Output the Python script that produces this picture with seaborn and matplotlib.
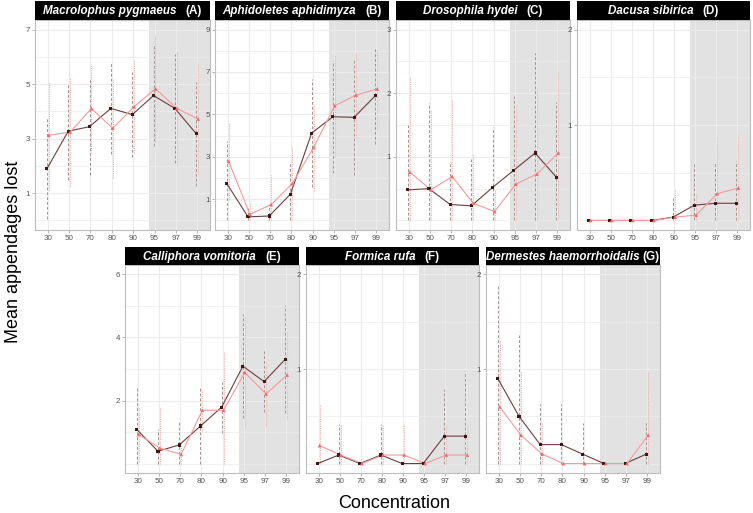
import numpy as np
import pandas as pd
import matplotlib
matplotlib.use("Agg")
import matplotlib.pyplot as plt
import seaborn as sns

sns.set_theme(style="white")
plt.rcParams['font.family'] = ['Liberation Sans', 'DejaVu Sans']

# ---------------- data ----------------
concentrations = ["30", "50", "70", "80", "90", "95", "97", "99"]
species = ["Macrolophus pygmaeus", "Aphidoletes aphidimyza", "Drosophila hydei",
           "Dacusa sibirica", "Calliphora vomitoria", "Formica rufa",
           "Dermestes haemorrhoidalis"]
letters = ["(A)", "(B)", "(C)", "(D)", "(E)", "(F)", "(G)"]

A_dark_mean = [1.89, 3.27, 3.44, 4.11, 3.88, 4.58, 4.11, 3.18]
A_dark_sd = [1.85, 1.77, 1.78, 1.68, 1.55, 1.86, 2.00, 1.90]
A_pink_mean = [3.12, 3.24, 4.10, 3.38, 4.17, 4.83, 4.11, 3.72]
A_pink_sd = [2.00, 1.98, 1.64, 1.82, 1.70, 1.96, 2.10, 2.00]

B_dark_mean = [1.74, 0.17, 0.21, 1.24, 4.12, 4.89, 4.86, 5.88]
B_dark_sd = [2.00, 0.40, 0.45, 1.50, 2.56, 2.64, 2.74, 2.27]
B_pink_mean = [2.78, 0.29, 0.75, 1.74, 3.44, 5.41, 5.91, 6.20]
B_pink_sd = [1.82, 0.52, 1.40, 1.75, 2.07, 2.40, 2.00, 1.90]

C_dark_mean = [0.48, 0.50, 0.25, 0.23, 0.52, 0.79, 1.06, 0.68]
C_dark_sd = [1.02, 1.34, 0.63, 0.73, 0.95, 1.16, 1.57, 1.18]
C_pink_mean = [0.76, 0.48, 0.69, 0.27, 0.14, 0.57, 0.73, 1.06]
C_pink_sd = [1.49, 1.27, 1.22, 0.78, 0.35, 1.23, 1.35, 1.27]

D_dark_mean = [0.0, 0.0, 0.0, 0.0, 0.035, 0.16, 0.18, 0.18]
D_dark_sd = [0.0, 0.0, 0.0, 0.0, 0.20, 0.43, 0.43, 0.44]
D_pink_mean = [0.0, 0.0, 0.0, 0.0, 0.035, 0.056, 0.28, 0.34]
D_pink_sd = [0.0, 0.0, 0.0, 0.0, 0.28, 0.23, 0.60, 0.55]

E_dark_mean = [1.08, 0.39, 0.59, 1.19, 1.79, 3.09, 2.60, 3.31]
E_dark_sd = [1.32, 0.71, 0.73, 1.20, 0.81, 1.65, 0.98, 1.71]
E_pink_mean = [0.92, 0.49, 0.29, 1.69, 1.69, 2.89, 2.21, 2.81]
E_pink_sd = [0.87, 1.30, 0.30, 0.68, 1.86, 1.79, 1.00, 1.40]

F_dark_mean = [0.0, 0.09, 0.0, 0.09, 0.0, 0.0, 0.29, 0.29]
F_dark_sd = [0.0, 0.33, 0.0, 0.33, 0.0, 0.0, 0.50, 0.69]
F_pink_mean = [0.19, 0.09, 0.0, 0.09, 0.09, 0.0, 0.09, 0.09]
F_pink_sd = [0.43, 0.33, 0.0, 0.33, 0.33, 0.0, 0.33, 0.33]

G_dark_mean = [0.90, 0.50, 0.20, 0.20, 0.10, 0.0, 0.0, 0.10]
G_dark_sd = [1.00, 0.86, 0.43, 0.43, 0.33, 0.0, 0.0, 0.33]
G_pink_mean = [0.60, 0.30, 0.10, 0.0, 0.0, 0.0, 0.0, 0.30]
G_pink_sd = [0.71, 0.68, 0.33, 0.0, 0.0, 0.0, 0.0, 0.68]

y_max = [7, 9, 3, 2, 6, 2, 2]
y_ticks = [[1, 3, 5, 7], [1, 3, 5, 7, 9], [1, 2, 3], [1, 2], [2, 4, 6], [1, 2], [1, 2]]

panel_data = [
    (A_dark_mean, A_dark_sd, A_pink_mean, A_pink_sd),
    (B_dark_mean, B_dark_sd, B_pink_mean, B_pink_sd),
    (C_dark_mean, C_dark_sd, C_pink_mean, C_pink_sd),
    (D_dark_mean, D_dark_sd, D_pink_mean, D_pink_sd),
    (E_dark_mean, E_dark_sd, E_pink_mean, E_pink_sd),
    (F_dark_mean, F_dark_sd, F_pink_mean, F_pink_sd),
    (G_dark_mean, G_dark_sd, G_pink_mean, G_pink_sd),
]

# ---------------- layout ----------------
W, H = 753, 513
fig = plt.figure(figsize=(W / 100, H / 100), dpi=100)

def rect(x0, x1, y0, y1):
    return [x0 / W, 1 - y1 / H, (x1 - x0) / W, (y1 - y0) / H]

panel_x = [(35, 210), (215, 389), (396, 570), (577, 750),
           (125, 299), (306, 479), (486, 660)]
top_row = (20, 230, 1)      # plot top, plot bottom, strip top
bot_row = (265, 473, 247)

DARK_LINE = "#6e3d3d"
DARK_PT = "#3e1616"
PINK_LINE = "#f59a9a"
PINK_PT = "#f26868"
DARK_ERR = "#a39494"
PINK_ERR = "#f6b0b0"
GRID = "#ececec"
SHADE = "#e2e2e2"

renderer = fig.canvas.get_renderer()
dodge = 0.045

for i in range(7):
    x0, x1 = panel_x[i]
    py0, py1, sy0 = top_row if i < 4 else bot_row
    ax = fig.add_axes(rect(x0, x1, py0, py1))
    dm, ds, pm, psd = panel_data[i]
    n = len(concentrations)
    pos = np.arange(1, n + 1)

    ymax = y_max[i]
    lo_lim, hi_lim = -0.05 * ymax, ymax * 1.05
    ax.set_xlim(0.4, n + 0.6)
    ax.set_ylim(lo_lim, hi_lim)
    ax.set_facecolor("white")

    # shaded region (95-99)
    ax.axvspan(5.75, n + 0.6, color=SHADE, zorder=0, lw=0)

    # grid
    ticks = y_ticks[i]
    step = ticks[1] - ticks[0]
    minors = np.arange(ticks[0] - step, hi_lim, step / 2)
    for m in minors:
        if lo_lim <= m <= hi_lim and m not in ticks:
            ax.axhline(m, color=GRID, lw=0.5, zorder=0.5)
    for t in ticks:
        ax.axhline(t, color=GRID, lw=0.8, zorder=0.5)
    for p in pos:
        ax.axvline(p, color=GRID, lw=0.8, zorder=0.5)

    df = pd.DataFrame({
        "pos": np.concatenate([pos - dodge, pos + dodge]),
        "mean": np.array(list(dm) + list(pm)),
        "sd": np.array(list(ds) + list(psd)),
        "group": ["dark"] * n + ["pink"] * n,
    })
    lo = np.clip(df["mean"] - df["sd"], 0, None)
    hi = df["mean"] + df["sd"]
    dmask = df["group"] == "dark"
    ax.vlines(df["pos"][dmask], lo[dmask], hi[dmask], colors=DARK_ERR,
              linestyles=(0, (3, 2)), lw=0.7, zorder=2)
    ax.vlines(df["pos"][~dmask], lo[~dmask], hi[~dmask], colors=PINK_ERR,
              linestyles=(0, (1, 1)), lw=0.8, zorder=2)

    sns.lineplot(data=df, x="pos", y="mean", hue="group",
                 palette={"dark": DARK_LINE, "pink": PINK_LINE},
                 lw=0.8, legend=False, ax=ax, sort=False, zorder=3,
                 estimator=None)
    sns.scatterplot(data=df, x="pos", y="mean", hue="group", style="group",
                    markers={"dark": "s", "pink": "^"},
                    palette={"dark": DARK_PT, "pink": PINK_PT},
                    size="group", sizes={"dark": 5, "pink": 7},
                    linewidth=0, legend=False, ax=ax, zorder=4)

    ax.set_xticks(pos)
    ax.set_xticklabels(concentrations)
    ax.set_yticks(ticks)
    ax.set_yticklabels([str(t) for t in ticks])
    ax.tick_params(axis="both", labelsize=5.8, labelcolor="#555555",
                   length=2, width=0.5, color="#999999", pad=1.5)
    ax.tick_params(axis="x", bottom=True)
    ax.tick_params(axis="y", left=True)
    ax.set_xlabel("")
    ax.set_ylabel("")
    for s in ax.spines.values():
        s.set_color("#bdbdbd")
        s.set_linewidth(0.8)

    # strip
    sax = fig.add_axes(rect(x0, x1, sy0, py0))
    sax.set_facecolor("black")
    sax.set_xticks([])
    sax.set_yticks([])
    for s in sax.spines.values():
        s.set_visible(False)
    t1 = sax.text(0, 0.45, species[i], color="white", fontsize=8.4,
                  fontweight="bold", fontstyle="italic",
                  ha="left", va="center", transform=sax.transAxes)
    t2 = sax.text(0, 0.45, letters[i], color="white", fontsize=8.4,
                  fontweight="bold", ha="left", va="center",
                  transform=sax.transAxes)
    w1 = t1.get_window_extent(renderer).width
    w2 = t2.get_window_extent(renderer).width
    gap = 9 if i != 6 else 3
    total = w1 + gap + w2
    sw = x1 - x0
    start = (sw - total) / 2
    t1.set_x(start / sw)
    t2.set_x((start + w1 + gap) / sw)

fig.text(14 / W, 1 - 252 / H, "Mean appendages lost", rotation=90,
         ha="center", va="center", fontsize=13, color="black")
fig.text(394 / W, 1 - 504 / H, "Concentration", ha="center", va="center",
         fontsize=13, color="black")

fig.savefig("out.png", dpi=100)
